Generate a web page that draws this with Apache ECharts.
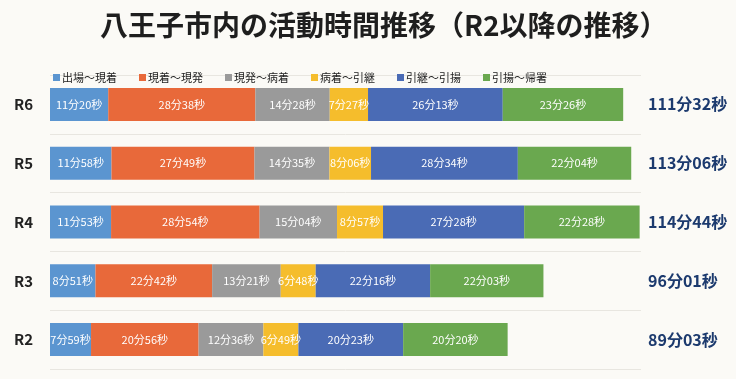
<!DOCTYPE html>
<html><head><meta charset="utf-8">
<script src="https://cdn.jsdelivr.net/npm/echarts@6/dist/echarts.min.js"></script>
<style>html,body{margin:0;padding:0;background:#fbfaf6}#c{width:736px;height:379px}</style>
</head><body><div id="c"></div>
<script>
const categories = ['R6','R5','R4','R3','R2'];
const seriesNames = ['出場～現着','現着～現発','現発～病着','病着～引継','引継～引揚','引揚～帰署'];
// seconds
const s1 = [680, 718, 713, 531, 479];     // 出場～現着
const s2 = [1718, 1669, 1734, 1362, 1256]; // 現着～現発
const s3 = [868, 875, 904, 801, 756];     // 現発～病着
const s4 = [447, 486, 537, 408, 409];     // 病着～引継
const s5 = [1573, 1714, 1648, 1336, 1223]; // 引継～引揚
const s6 = [1406, 1324, 1348, 1323, 1220]; // 引揚～帰署
const colors = ['#5b95d0','#e8693a','#9a9a9a','#f5bd2c','#4a6bb5','#6aa84f'];

const allData = [s1,s2,s3,s4,s5,s6];
function fmt(v){ const m = Math.floor(v/60), s = v%60; return m + '分' + String(s).padStart(2,'0') + '秒'; }
const totals = categories.map((c,i)=>fmt(allData.reduce((a,arr)=>a+arr[i],0)));

const font = '"Noto Sans CJK JP","Noto Sans",sans-serif';
const chart = echarts.init(document.getElementById('c'));
chart.setOption({
  backgroundColor: '#fbfaf6',
  animation: false,
  textStyle: {fontFamily: font},
  title: {
    text: '八王子市内の活動時間推移（R2以降の推移）',
    left: 95, top: 6,
    textStyle: {fontSize: 28, fontWeight: 'bold', color: '#1e1e1e', fontFamily: font}
  },
  legend: {
    left: 48, top: 67,
    itemWidth: 7, itemHeight: 7, itemGap: 22,
    icon: 'rect',
    textStyle: {fontSize: 11, color: '#222', fontFamily: font, padding: [0,0,0,-3]},
    data: seriesNames
  },
  grid: {left: 50, right: 95, top: 75, bottom: 10},
  xAxis: {type: 'value', min: 0, max: 6900, show: false},
  yAxis: [{
    type: 'category', data: categories, inverse: true,
    axisLine: {show: false}, axisTick: {show: false},
    splitLine: {show: true, lineStyle: {color: '#e8e6e0', width: 1}},
    axisLabel: {fontSize: 15, fontWeight: 'bold', color: '#222', margin: 17, fontFamily: font}
  },{
    type: 'category', data: totals, inverse: true, position: 'right',
    axisLine: {show: false}, axisTick: {show: false},
    axisLabel: {fontSize: 16, fontWeight: 'bold', color: '#1c3a6e', margin: 7, align: 'left', fontFamily: font}
  }],
  series: allData.map((d,i)=>({
    name: seriesNames[i], type: 'bar', stack: 'total', data: d,
    barWidth: 33,
    itemStyle: {color: colors[i]},
    label: {show: true, position: 'inside', color: '#fff', fontSize: 11, fontFamily: font,
      formatter: p => fmt(p.value)}
  }))
});
</script></body></html>
